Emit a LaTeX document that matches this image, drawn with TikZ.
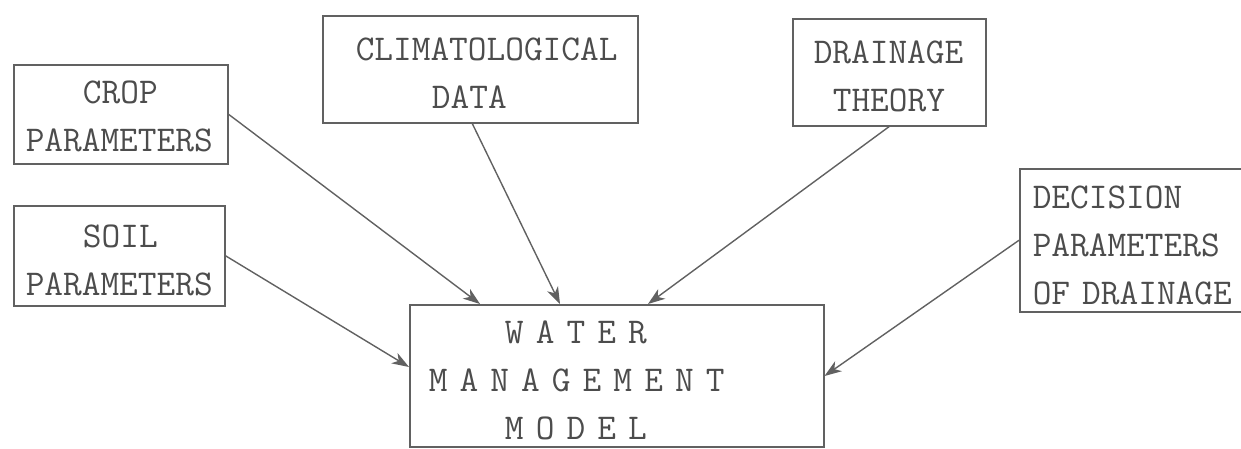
\documentclass[tikz,border=0pt]{standalone}
\usepackage{fontspec}
\usetikzlibrary{arrows.meta,calc}
\hyphenpenalty=10000
\exhyphenpenalty=10000
\definecolor{ink}{gray}{0.38}
\definecolor{textink}{gray}{0.3}
\newcommand{\topstrut}[1]{\rule{0pt}{#1pt}}
\begin{document}
\begin{tikzpicture}[x=1pt,y=-1pt,
  box/.style={draw=ink, line width=1.5pt, rectangle, anchor=north west, align=left,
    inner ysep=0pt, text=textink, font=\ttfamily\fontsize{36.3}{48}\selectfont},
  link/.style={draw=ink, line width=1.4pt, -{Stealth[length=17pt,width=12pt,inset=5pt]}}]
\useasboundingbox (0,0) rectangle (1241,448);
\node[box, inner xsep=12pt, text width=190pt, minimum height=99pt] (crop) at (13,64)
  {\topstrut{27}\hspace*{1.575em}CROP\\PARAMETERS};
\node[box, inner xsep=12pt, text width=187pt, minimum height=100pt] (soil) at (13,205)
  {\topstrut{32}\hspace*{1.575em}SOIL\\PARAMETERS};
\node[box, inner xsep=33pt, text width=249pt, minimum height=107pt] (clim) at (322,15)
  {\topstrut{30}CLIMATOLOGICAL\\\hspace*{2.1em}DATA};
\node[box, inner xsep=21pt, text width=151pt, minimum height=107pt] (drain) at (792,18)
  {\topstrut{30}DRAINAGE\\\hspace*{0.525em}THEORY};
\node[box, inner xsep=13pt, text width=215pt, minimum height=143pt] (dec) at (1019,168)
  {\topstrut{33}DECISION\\PARAMETERS\\OF DRAINAGE};
\node[box, inner xsep=19pt, text width=376pt, minimum height=142pt] (water) at (409,304)
  {\topstrut{32}\hspace*{2.1em}W A T E R\\M A N A G E M E N T\\\hspace*{2.1em}M O D E L};
\draw[link] (crop.east) -- ($(water.north west)+(71,0)$);
\draw[link] (soil.east) -- ($(water.north west)+(0,63)$);
\draw[link] ([xshift=-8pt]clim.south) -- ($(water.north west)+(151,0)$);
\draw[link] (drain.south) -- ($(water.north west)+(239,0)$);
\draw[link] (dec.west) -- ($(water.north east)+(0,72)$);
\end{tikzpicture}
\end{document}
